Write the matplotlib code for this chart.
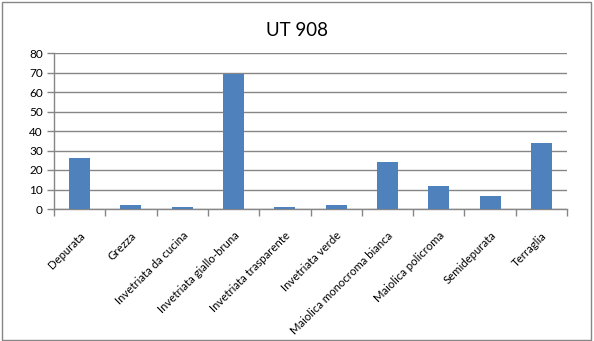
import matplotlib
matplotlib.use('Agg')
import matplotlib.pyplot as plt
import numpy as np

# data
categories = ['Depurata', 'Grezza', 'Invetriata da cucina', 'Invetriata giallo-bruna',
              'Invetriata trasparente', 'Invetriata verde', 'Maiolica monocroma bianca',
              'Maiolica policroma', 'Semidepurata', 'Terraglia']
values = [26, 2, 1, 69, 1, 2, 24, 12, 6.5, 34]
title = 'UT 908'

plt.rcParams['font.family'] = ['Lato', 'DejaVu Sans']

fig = plt.figure(figsize=(5.94, 3.41), dpi=100)
ax = fig.add_axes([54 / 594, 1 - 209 / 341, (567 - 54) / 594, (209 - 53) / 341])

x = np.arange(len(categories))
ax.bar(x, values, width=0.41, color='#4f81bd', zorder=3)

ax.set_xlim(-0.5, len(categories) - 0.5)
ax.set_ylim(0, 80)
ax.set_yticks(np.arange(0, 81, 10))
ax.grid(axis='y', color='#868686', linewidth=1, zorder=0)

# category labels centred, tick marks between categories
ax.set_xticks(x)
ax.set_xticklabels(categories, rotation=45, ha='right', rotation_mode='anchor', fontsize=8.2)
ax.set_xticks(np.arange(-0.5, len(categories), 1), minor=True)
ax.tick_params(axis='x', which='major', length=0, pad=15)
ax.tick_params(axis='x', which='minor', length=5, color='#868686', width=1)
ax.tick_params(axis='y', length=5, color='#868686', width=1, labelsize=8.5, pad=3)

for s in ['top', 'right']:
    ax.spines[s].set_visible(False)
for s in ['left', 'bottom']:
    ax.spines[s].set_color('#868686')
    ax.spines[s].set_linewidth(1)

fig.text(0.5, 1 - 30 / 341, title, ha='center', va='center', fontsize=13.5)

# outer chart border
fig.patches.append(plt.Rectangle((0.003, 0.004), 0.992, 0.99, transform=fig.transFigure,
                                 fill=False, edgecolor='#868686', linewidth=1))

fig.savefig('out.png', dpi=100)
